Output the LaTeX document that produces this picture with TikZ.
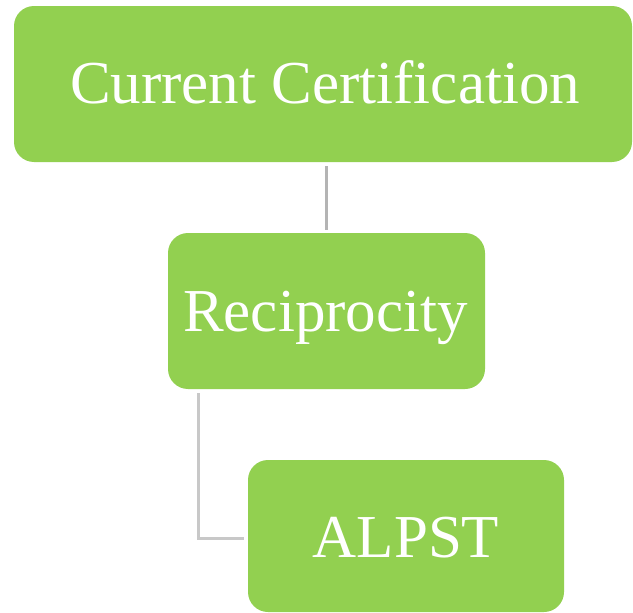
\documentclass[tikz,border=0pt]{standalone}
\usepackage{fontspec}
\setmainfont{Liberation Serif}
\definecolor{boxgreen}{HTML}{92D050}
\definecolor{linkgray}{HTML}{B4B4B4}
\definecolor{linkgray2}{HTML}{C8C8C8}
\begin{document}
\begin{tikzpicture}[x=1pt,y=-1pt,
  gbox/.style={fill=boxgreen,draw=none,rounded corners=20pt},
  lbl/.style={text=white,font=\fontsize{61}{61}\selectfont,anchor=base,inner sep=0pt},
  link/.style={line width=3pt}]
\useasboundingbox (0,0) rectangle (633,613);
\fill[gbox] (14,6) rectangle (632,162);
\fill[gbox] (168,233) rectangle (485,389);
\fill[gbox] (248,460) rectangle (564,612);
\node[lbl] (cc) at (325,103) {Current Certification};
\node[lbl] (rc) at (325.5,331) {Reciprocity};
\node[lbl] (al) at (406,557) {ALPST};
\coordinate (a1) at (326,166);
\coordinate (a2) at (326,230);
\coordinate (b1) at (198,393);
\coordinate (b2) at (244,538);
\draw[link,draw=linkgray] (a1) -- (a2);
\draw[link,draw=linkgray2] (b1) |- (b2);
\end{tikzpicture}
\end{document}
